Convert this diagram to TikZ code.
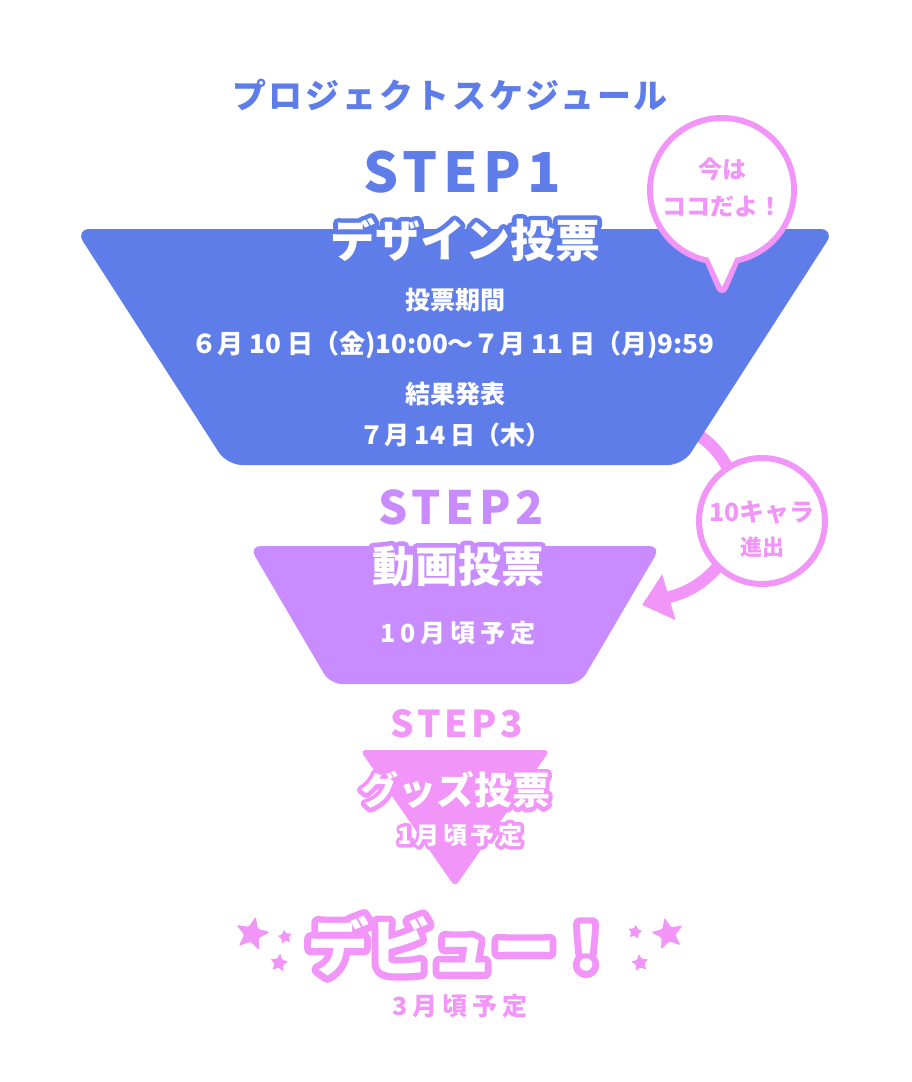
\documentclass[tikz,border=0pt]{standalone}
\usepackage{fontspec}
\newfontfamily\jp{Noto Sans CJK JP Black}
\newfontfamily\jpwide{Noto Sans CJK JP Black}[LetterSpace=8]
\newfontfamily\jpwider{Noto Sans CJK JP Black}[LetterSpace=20]
\newfontfamily\jphalo{Noto Sans CJK JP Black}[FakeBold=22]
\newfontfamily\jphalothick{Noto Sans CJK JP Black}[FakeBold=30,LetterSpace=14]
\newfontfamily\jpspaced{Noto Sans CJK JP Black}[LetterSpace=10]
\newfontfamily\jpspacedsm{Noto Sans CJK JP Black}[LetterSpace=14]
\usetikzlibrary{shapes.geometric,arrows.meta,positioning}
\definecolor{stepblue}{RGB}{94,125,232}
\definecolor{steppurple}{RGB}{200,140,255}
\definecolor{steppink}{RGB}{241,150,248}
% white text with a coloured rim
\newcommand{\halo}[4][\jphalo]{\makebox[0pt]{\color{#2}#1#4}\makebox[0pt]{\color{white}#3#4}}
\newcommand{\fs}[1]{\fontsize{#1}{#1}\selectfont}

\begin{document}
\begin{tikzpicture}[
    x=1pt, y=-1pt,
    every node/.style={inner sep=0pt, align=center},
    funnel/.style={rounded corners=15pt},
    rim/.style={line join=round, font=\fs{#1}},
    plain/.style={font=\fs{#1}\jp, text=white},
    starmark/.style={star, star points=5, star point ratio=2.3, fill=steppink, rounded corners=1.5pt, minimum size=#1}
]
\useasboundingbox (0,0) rectangle (912,1082);

% arc from step 1 down to step 2
\coordinate (arcstart) at (686,428);
\coordinate (arcend) at (642,605);
\draw[steppink, line width=12pt, -{Triangle[length=28pt,width=46pt]}]
    (arcstart) arc[start angle=-65, end angle=75, radius=90] -- (arcend);

% funnel
\fill[stepblue, funnel] (75,229) -- (835,229) -- (683,465) -- (227,465) -- cycle;
\fill[steppurple, funnel, rounded corners=12pt] (249,546) -- (661,546) -- (580,684) -- (330,684) -- cycle;
\fill[steppink, funnel, rounded corners=6pt] (360,750) -- (550,750) -- (455,887) -- cycle;

% speech bubble
\draw[steppink, line width=12pt, line join=round] (722,190) circle[radius=69]
    (707,252) -- (722,287) -- (737,252);
\fill[white] (722,190) circle[radius=69];
\fill[white] (705,250) -- (722,287) -- (739,250) -- cycle;
\node[font=\fs{24}\jp, text=steppink] (nowtext) at (722,187) {今は\\[13pt]ココだよ！};

% ten characters go on
\node[circle, draw=steppink, line width=6pt, fill=white, minimum size=126pt] (advance) at (762,521) {};
\node[font=\fs{25}\jp, text=steppink] (advancetext) at (762,529) {10キャラ\\[9pt]{\fs{22}進出}};

% texts
\node[font=\fs{34}\jpwide, text=stepblue] (title) at (450,95) {プロジェクトスケジュール};

\node[font=\fs{55}\jpspaced, text=stepblue] (step1) at (462,172) {STEP1};
\node[rim=45] (step1name) at (465,240) {\halo{stepblue}{\jp}{デザイン投票}};
\node[plain=25] (periodhead) at (455,300) {投票期間};
\node[plain=26] (period) at (453,345) {６月 10 日（金)10:00～７月 11 日（月)9:59};
\node[plain=25] (resulthead) at (455,394) {結果発表};
\node[plain=25] (result) at (455,435) {７月 14 日（木）};

\node[font=\fs{46}\jpspaced, text=steppurple] (step2) at (461,507) {STEP2};
\node[rim=43] (step2name) at (458,566) {\halo{steppurple}{\jp}{動画投票}};
\node[font=\fs{25}\jpwider, text=white] (step2date) at (458,633) {10月頃予定};

\node[font=\fs{37}\jpspaced, text=steppink] (step3) at (457,724) {STEP3};
\node[rim=38] (step3name) at (455,790) {\halo{steppink}{\jp}{グッズ投票}};
\node[rim=24] (step3date) at (460,835) {\halo[\jphalothick]{steppink}{\jpspacedsm}{1月頃予定}};

\node[rim=62] (debut) at (462,946) {\halo{steppink}{\jp}{デビュー！}};
\node[font=\fs{25}\jpwider, text=steppink] (debutdate) at (460,1006) {3月頃予定};

% stars
\node[starmark=36pt, rotate=-12] (starL1) at (252,934) {};
\node[starmark=16pt, rotate=10] (starL2) at (285,937) {};
\node[starmark=20pt, rotate=-8] (starL3) at (279,963) {};
\node[starmark=34pt, rotate=12] (starR1) at (668,934) {};
\node[starmark=16pt, rotate=-10] (starR2) at (635,932) {};
\node[starmark=19pt, rotate=8] (starR3) at (640,963) {};
\end{tikzpicture}
\end{document}
